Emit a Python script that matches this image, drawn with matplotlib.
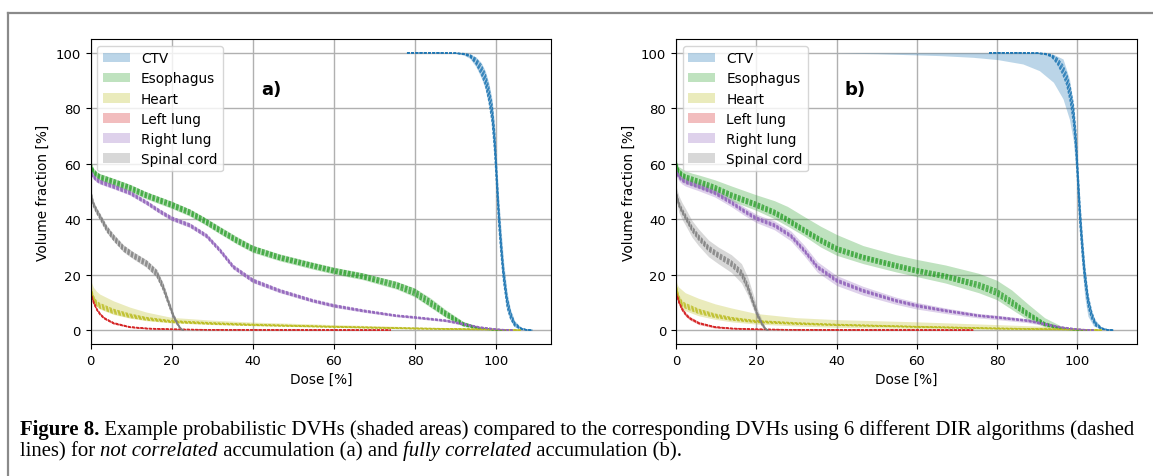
import matplotlib
matplotlib.use('Agg')
import matplotlib.pyplot as plt
import numpy as np
from matplotlib.lines import Line2D

organs = ['CTV', 'Esophagus', 'Heart', 'Left lung', 'Right lung', 'Spinal cord']
colors = ['tab:blue', 'tab:green', 'tab:olive', 'tab:red', 'tab:purple', 'tab:gray']

# CTV: mean DVH (dose %, volume %) and probabilistic bands
ctv_dose = [78, 85, 90, 92, 93.5, 95, 96.3, 97.3, 98.2, 99, 99.6, 100.1, 100.6, 101.2, 101.8, 102.7, 103.5, 104.5, 106, 107.5, 108.9]
ctv_vol = [100, 100, 99.9, 99.6, 99, 97, 94, 90.5, 85, 78, 68, 55, 42, 30, 20, 10, 5.5, 2.2, 0.6, 0.1, 0]
ctv_lo_a = [100, 100, 99.8, 99.2, 98, 95, 91, 87, 81, 73, 62, 49, 36, 25, 16, 7, 3.5, 1.2, 0.2, 0, 0]
ctv_hi_a = [100, 100, 100, 99.9, 99.6, 98.5, 96.5, 93.5, 89, 83, 74, 61, 48, 36, 25, 13.5, 7.5, 3.5, 1.1, 0.3, 0]
ctv_dose_b = [38, 50, 66, 74, 80, 86.4, 90.5, 94, 96.4, 98, 99, 99.7, 100.3, 101, 101.8, 102.6, 104, 106, 109]
ctv_lo_b = [100, 99.7, 99, 98.4, 97.6, 96, 93.6, 89.4, 83.4, 76, 68, 55, 40, 25, 12, 5, 1.5, 0.3, 0]
ctv_hi_b = [100, 100, 100, 100, 100, 100, 100, 99.5, 97.8, 90.6, 81, 68, 54, 38, 24, 13, 4.5, 1, 0]

# Esophagus
eso_dose = [0, 0.3, 0.7, 1.5, 2.3, 4, 5.6, 9.7, 13.8, 20, 24.5, 27.8, 31.9, 36, 40, 46.6, 54.8, 60, 67.1, 75.4, 79.9, 83.6, 87.6, 91.8, 95.9, 100, 103]
eso_vol = [61, 58.5, 57.2, 56, 55.2, 54.3, 53.5, 51.3, 48.6, 45.2, 42.4, 39.7, 36, 32.4, 29.3, 26.2, 23.2, 21.4, 19.4, 16.2, 13.6, 10, 5.8, 2.2, 0.6, 0.1, 0]
eso_lo_a = [59.5, 57.2, 56, 54.8, 54, 53, 52.2, 50, 47.3, 43.9, 41.1, 38.4, 34.7, 31.1, 28, 25, 22, 20.2, 18.2, 14.8, 12, 8.4, 4.5, 1.4, 0.3, 0, 0]
eso_hi_a = [62, 60, 58.5, 57.3, 56.5, 55.6, 54.8, 52.6, 49.9, 46.5, 43.7, 41, 37.4, 33.8, 30.6, 27.5, 24.5, 22.7, 20.7, 17.6, 15.2, 11.8, 7.3, 3.2, 1, 0.2, 0]
eso_lo_b = [59, 56.5, 55.3, 54, 53.2, 52.2, 51.4, 49.2, 46.6, 43.2, 40.2, 37.5, 34, 30, 27, 24, 21, 19.3, 17, 13.5, 11, 7.5, 3.8, 1.2, 0.2, 0, 0]
eso_hi_b = [62, 60, 59, 58.2, 57.5, 56.6, 56, 54.2, 52, 48.8, 46.7, 44.6, 41, 37.5, 34.5, 30.5, 27.2, 25.5, 23.5, 20.5, 18, 14.5, 9.5, 4.5, 1.5, 0.3, 0]

# Heart
heart_dose = [0, 0.3, 0.7, 1.5, 2.3, 5.6, 9.7, 13.8, 20, 30, 40, 60, 80, 95, 100, 106]
heart_vol = [16, 13.5, 11.5, 9.6, 8.8, 6.8, 5.2, 4.1, 3.1, 2.4, 1.9, 1.2, 0.6, 0.3, 0.2, 0]
heart_lo_a = [14.5, 12, 10.2, 8.5, 7.6, 5.7, 4.3, 3.4, 2.6, 2, 1.6, 1, 0.4, 0.15, 0.1, 0]
heart_hi_a = [18.5, 17, 15.5, 14, 13, 10.6, 8.3, 6.5, 4.6, 3.6, 2.9, 2, 1.2, 0.6, 0.4, 0]
heart_lo_b = [13.5, 11, 9.3, 7.8, 7, 5.2, 3.9, 3, 2.2, 1.5, 1, 0.6, 0.2, 0.05, 0, 0]
heart_hi_b = [18, 16.5, 15.5, 14.5, 13.5, 11.5, 9.5, 8, 6, 4.5, 3.8, 3, 2, 1.2, 0.8, 0]

# Left lung
lungl_dose = [0, 0.3, 0.7, 1.5, 2.5, 3.5, 5.7, 9.7, 13.8, 20, 30, 40, 60, 74]
lungl_vol = [13.5, 12.2, 10.3, 7.6, 5.5, 4.2, 2.5, 1.1, 0.6, 0.3, 0.15, 0.1, 0.05, 0]
lungl_lo_a = [13, 11.7, 9.8, 7.2, 5.1, 3.9, 2.2, 0.9, 0.45, 0.2, 0.1, 0.05, 0, 0]
lungl_hi_a = [14, 12.7, 10.8, 8, 5.9, 4.5, 2.8, 1.3, 0.75, 0.4, 0.2, 0.15, 0.1, 0]
lungl_lo_b = [12.5, 11.2, 9.3, 6.8, 4.8, 3.6, 2, 0.7, 0.35, 0.15, 0.05, 0, 0, 0]
lungl_hi_b = [14.5, 13.2, 11.3, 8.5, 6.3, 4.9, 3.1, 1.5, 0.9, 0.5, 0.25, 0.2, 0.1, 0]

# Right lung
lungr_dose = [0, 0.3, 0.7, 1.5, 2.3, 4, 5.6, 9.7, 13.8, 17, 20, 24.5, 28.6, 31.9, 35.2, 40, 46.6, 54.8, 60, 67.1, 75.4, 79.9, 87.6, 91.8, 95.9, 100, 104]
lungr_vol = [58, 56.5, 55.4, 54.2, 53.5, 52.6, 51.8, 49.5, 46, 42.9, 40.3, 37.8, 34, 28.8, 22.8, 17.9, 14.2, 10.6, 8.8, 7, 5.2, 4.6, 3.4, 2.2, 1, 0.3, 0]
lungr_lo_a = [57.2, 55.7, 54.6, 53.4, 52.7, 51.8, 51, 48.7, 45.2, 42.1, 39.5, 37, 33.2, 28, 22, 17.1, 13.5, 10, 8.2, 6.5, 4.8, 4.2, 3, 1.8, 0.7, 0.1, 0]
lungr_hi_a = [58.8, 57.3, 56.2, 55, 54.3, 53.4, 52.6, 50.3, 46.8, 43.7, 41.1, 38.6, 34.8, 29.6, 23.6, 18.7, 14.9, 11.2, 9.4, 7.5, 5.6, 5, 3.8, 2.6, 1.3, 0.5, 0]
lungr_lo_b = [56.5, 55, 53.9, 52.7, 52, 51.1, 50.3, 48, 44.5, 41.4, 38.8, 36.2, 32.2, 26.9, 20.9, 16.1, 12.6, 9.3, 7.6, 6, 4.4, 3.8, 2.7, 1.6, 0.6, 0.1, 0]
lungr_hi_b = [59.5, 58, 56.9, 55.7, 55, 54.1, 53.3, 51, 47.5, 44.4, 41.8, 39.4, 35.8, 30.7, 24.7, 19.7, 15.8, 11.9, 10, 8, 6, 5.4, 4.1, 2.8, 1.4, 0.5, 0]

# Spinal cord
cord_dose = [0, 0.3, 0.7, 1.5, 2.3, 4, 5.6, 8.1, 10.5, 13.8, 16.3, 17.9, 19.1, 20.4, 21.6, 22.4, 23]
cord_vol = [50, 48, 45.5, 43, 41, 36.5, 33.5, 29.5, 27, 24, 20.5, 15.5, 10.5, 5.2, 1.8, 0.3, 0]
cord_lo_a = [49, 46.8, 44.3, 41.8, 39.8, 35.2, 32.2, 28.2, 25.7, 22.6, 19, 14, 9.2, 4.2, 1.2, 0.1, 0]
cord_hi_a = [51, 49.2, 46.7, 44.2, 42.2, 37.8, 34.8, 30.8, 28.3, 25.4, 22, 17, 11.8, 6.2, 2.4, 0.5, 0]
cord_lo_b = [47.5, 45.5, 42.5, 40, 38, 33.5, 30.5, 26.5, 24, 20.8, 17, 12.5, 8, 3.5, 0.8, 0, 0]
cord_hi_b = [52, 50.5, 48.5, 46, 44, 39.5, 36.5, 32.5, 30, 27.2, 24, 19, 13.5, 7.2, 3, 0.7, 0]

# position of the 6 DIR algorithm DVHs around the mean, as a fraction of
# the narrower half of the uncorrelated band
dir_weights = [-0.7, -0.4, -0.12, 0.12, 0.4, 0.7]

dose_grid = [ctv_dose, eso_dose, heart_dose, lungl_dose, lungr_dose, cord_dose]
vol_mean = [ctv_vol, eso_vol, heart_vol, lungl_vol, lungr_vol, cord_vol]
vol_lo_a = [ctv_lo_a, eso_lo_a, heart_lo_a, lungl_lo_a, lungr_lo_a, cord_lo_a]
vol_hi_a = [ctv_hi_a, eso_hi_a, heart_hi_a, lungl_hi_a, lungr_hi_a, cord_hi_a]
bands_a = [(d, lo, hi) for d, lo, hi in zip(dose_grid, vol_lo_a, vol_hi_a)]
bands_b = [(ctv_dose_b, ctv_lo_b, ctv_hi_b), (eso_dose, eso_lo_b, eso_hi_b),
           (heart_dose, heart_lo_b, heart_hi_b), (lungl_dose, lungl_lo_b, lungl_hi_b),
           (lungr_dose, lungr_lo_b, lungr_hi_b), (cord_dose, cord_lo_b, cord_hi_b)]

plt.rcParams['font.family'] = 'DejaVu Sans'
fig = plt.figure(figsize=(11.53, 4.77), dpi=100)
ax1 = fig.add_axes([0.0785, 0.2767, 0.3994, 0.6394])
ax2 = fig.add_axes([0.5863, 0.2767, 0.3994, 0.6394])


def draw_panel(ax, bands, tag, xmax):
    for i, name in enumerate(organs):
        d, lo, hi = bands[i]
        ax.fill_between(d, lo, hi, color=colors[i], alpha=0.3, lw=0, label=name)
        v = np.array(vol_mean[i])
        half = np.minimum(np.array(vol_hi_a[i]) - v, v - np.array(vol_lo_a[i]))
        for w in dir_weights:
            ax.plot(dose_grid[i], v + w * half, color=colors[i], lw=0.8,
                    ls=(0, (2.5, 1.3)), alpha=0.8)
    ax.set_xlim(0, xmax)
    ax.set_ylim(-5, 105)
    ax.set_xticks([0, 20, 40, 60, 80, 100])
    ax.set_yticks([0, 20, 40, 60, 80, 100])
    ax.grid(True, color='#b0b0b0', lw=1.0)
    ax.set_axisbelow(True)
    ax.tick_params(labelsize=9.5)
    ax.set_xlabel('Dose [%]', fontsize=9.8)
    ax.set_ylabel('Volume fraction [%]', fontsize=9.8)
    ax.legend(loc='upper left', fontsize=9.8, labelspacing=0.45, borderaxespad=0.5)
    ax.text(42, 87, tag, fontsize=13, fontweight='bold', ha='left', va='center')


draw_panel(ax1, bands_a, 'a)', 113.5)
draw_panel(ax2, bands_b, 'b)', 114.7)

# page frame lines
fig.add_artist(Line2D([8 / 1153, 1], [1 - 14 / 477, 1 - 14 / 477], color='#8a8a8a', lw=1.6))
fig.add_artist(Line2D([8 / 1153, 8 / 1153], [0, 1 - 14 / 477], color='#8a8a8a', lw=1.6))

# caption, written piece by piece so bold / italic parts follow each other
line1 = [('Figure 8.', 'b'),
         (' Example probabilistic DVHs (shaded areas) compared to the corresponding DVHs using 6 different DIR algorithms (dashed', 'n')]
line2 = [('lines) for ', 'n'), ('not correlated', 'i'), (' accumulation (a) and ', 'n'),
         ('fully correlated', 'i'), (' accumulation (b).', 'n')]

renderer = fig.canvas.get_renderer()
for y, pieces in [(435, line1), (456, line2)]:
    x = 20
    for txt, style in pieces:
        kw = dict(fontsize=14.95, family='Liberation Serif', va='baseline')
        if style == 'b':
            kw['fontweight'] = 'bold'
        if style == 'i':
            kw['style'] = 'italic'
        tt = fig.text(x / 1153, 1 - y / 477, txt, **kw)
        x += tt.get_window_extent(renderer).width

fig.savefig('out.png', dpi=100)
